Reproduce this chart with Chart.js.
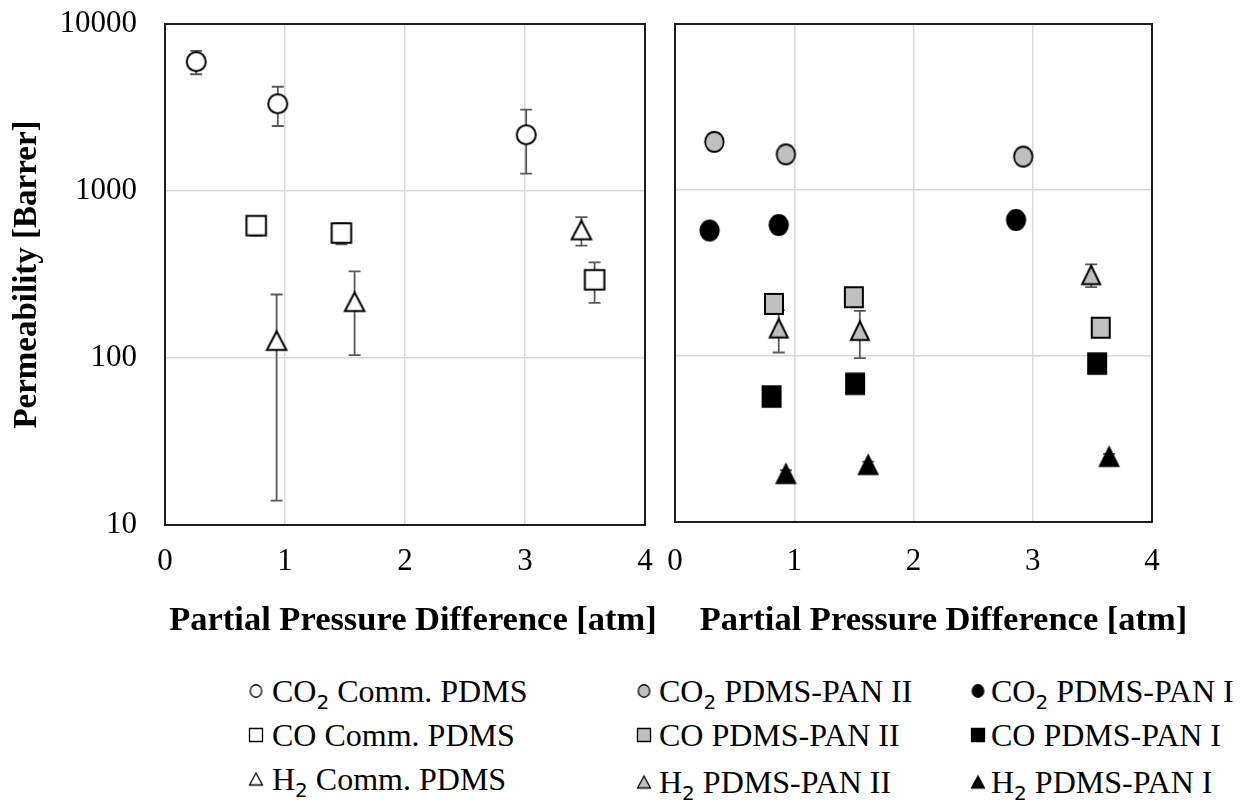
<!DOCTYPE html>
<html>
<head>
<meta charset="utf-8">
<script src="https://cdn.jsdelivr.net/npm/chart.js@4.4.0/dist/chart.umd.min.js"></script>
<style>
  body { margin: 0; background: #fff; width: 1240px; height: 803px; position: relative; overflow: hidden;
         font-family: 'Liberation Serif', 'Times New Roman', serif; }
  .panel { position: absolute; top: 0; height: 650px; }
  #leftPanel { left: 0; width: 660px; }
  #rightPanel { left: 660px; width: 580px; }
  .key { position: absolute; height: 32px; line-height: 32px; font-size: 32px; white-space: nowrap; color: #000; }
  .key canvas { position: absolute; top: 50%; transform: translate(-50%, -50%); }
  .key .sub { font-family: 'DejaVu Sans', sans-serif; font-size: 20px; position: relative; top: 7px; }
</style>
</head>
<body>
<div class="panel" id="leftPanel"><canvas id="commChart"></canvas></div>
<div class="panel" id="rightPanel"><canvas id="panChart"></canvas></div>
<div id="keys"></div>
<script>
const yTicks = [10, 100, 1000, 10000];

// Commercial PDMS
const co2CommX = [0.26, 0.94, 3.01];
const co2CommP = [5950, 3330, 2170];
const co2CommErr = [950, 880, 900];
const coCommX = [0.76, 1.47, 3.58];
const coCommP = [620, 560, 294];
const coCommErr = [80, 80, 80];
const h2CommX = [0.93, 1.58, 3.47];
const h2CommP = [127, 217, 584];
const h2CommErr = [113, 113, 113];

// PDMS-PAN II
const co2Pan2X = [0.33, 0.93, 2.92];
const co2Pan2P = [1950, 1640, 1590];
const coPan2X = [0.83, 1.50, 3.57];
const coPan2P = [206, 226, 148];
const h2Pan2X = [0.87, 1.55, 3.49];
const h2Pan2P = [147, 142, 308];
const h2Pan2Err = [42, 45, 48];

// PDMS-PAN I
const co2Pan1X = [0.29, 0.87, 2.86];
const co2Pan1P = [570, 615, 660];
const coPan1X = [0.81, 1.51, 3.54];
const coPan1P = [57, 68, 90];
const h2Pan1X = [0.93, 1.62, 3.64];
const h2Pan1P = [19.5, 22.1, 24.7];
const h2Pan1Err = [1, 1, 1];

const xTitle = 'Partial Pressure Difference [atm]';
const yTitle = 'Permeability [Barrer]';

const SERIF = "'Liberation Serif', 'Times New Roman', serif";
const GRAY = '#bfbfbf';
const CLEAR = 'rgba(0,0,0,0)';

// marker drawn on a small canvas so the shape is centred on its bounding box
function makeMarker(shape, fill, w, h, lw) {
  const c = document.createElement('canvas');
  c.width = Math.ceil(w + lw * 2 + 2);
  c.height = Math.ceil(h + lw * 2 + 2);
  const g = c.getContext('2d');
  const cx = c.width / 2, cy = c.height / 2;
  g.beginPath();
  if (shape === 'circle') {
    g.ellipse(cx, cy, w / 2, h / 2, 0, 0, Math.PI * 2);
  } else if (shape === 'square') {
    g.rect(cx - w / 2, cy - h / 2, w, h);
  } else {
    g.moveTo(cx, cy - h / 2);
    g.lineTo(cx + w / 2, cy + h / 2);
    g.lineTo(cx - w / 2, cy + h / 2);
    g.closePath();
  }
  g.fillStyle = fill;
  g.fill();
  g.lineWidth = lw;
  g.lineJoin = 'miter';
  g.strokeStyle = '#000';
  g.stroke();
  return c;
}

function points(xs, ys) {
  return xs.map((x, i) => ({ x: x, y: ys[i] }));
}

function series(label, xs, ys, marker, errors) {
  return {
    label: label,
    data: points(xs, ys),
    errors: errors || null,
    pointStyle: marker,
    pointRadius: 10,
    showLine: false
  };
}

// vertical error bars with caps, drawn under the markers
const errorBars = {
  id: 'errorBars',
  beforeDatasetsDraw(chart) {
    const ctx = chart.ctx;
    const ys = chart.scales.y, xs = chart.scales.x;
    ctx.save();
    ctx.strokeStyle = '#595959';
    ctx.lineWidth = 1.8;
    chart.data.datasets.forEach(ds => {
      if (!ds.errors) return;
      ds.data.forEach((p, i) => {
        const e = ds.errors[i];
        if (!e) return;
        const px = xs.getPixelForValue(p.x);
        const top = ys.getPixelForValue(p.y + e);
        const bot = ys.getPixelForValue(Math.max(p.y - e, 1));
        ctx.beginPath();
        ctx.moveTo(px, top); ctx.lineTo(px, bot);
        ctx.moveTo(px - 6, top); ctx.lineTo(px + 6, top);
        ctx.moveTo(px - 6, bot); ctx.lineTo(px + 6, bot);
        ctx.stroke();
      });
    });
    ctx.restore();
  }
};

// box around the plot area
const frame = {
  id: 'frame',
  beforeDatasetsDraw(chart) {
    const a = chart.chartArea, ctx = chart.ctx;
    ctx.save();
    ctx.strokeStyle = '#1e1e1e';
    ctx.lineWidth = 2;
    ctx.strokeRect(a.left, a.top, a.right - a.left, a.bottom - a.top);
    ctx.restore();
  }
};

// x axis caption, placed a little right of the plot centre
const caption = {
  id: 'caption',
  afterDraw(chart, args, opts) {
    const a = chart.chartArea, ctx = chart.ctx;
    ctx.save();
    ctx.font = 'bold 34.5px ' + SERIF;
    ctx.fillStyle = '#000';
    ctx.textAlign = 'center';
    ctx.textBaseline = 'middle';
    ctx.fillText(opts.text, (a.left + a.right) / 2 + opts.dx, opts.y);
    ctx.restore();
  }
};

// label offsets come from invisible tick marks so they don't pad the layout
function panelOptions(cfg) {
  return {
    responsive: true,
    maintainAspectRatio: false,
    animation: false,
    layout: { padding: { top: 24, right: cfg.padRight, left: 0, bottom: 0 } },
    plugins: {
      legend: { display: false },
      tooltip: { enabled: false },
      caption: { text: xTitle, dx: cfg.titleDx, y: 621 }
    },
    scales: {
      x: {
        type: 'linear', min: 0, max: 4,
        afterFit: s => { s.height = cfg.xHeight; },
        grid: { color: '#d9d9d9', lineWidth: 1.5, drawTicks: true, tickLength: cfg.xGap, tickColor: CLEAR },
        border: { display: false },
        ticks: { stepSize: 1, padding: 0, color: '#000', font: { family: SERIF, size: 31 } }
      },
      y: {
        type: 'logarithmic', min: 10, max: 10000,
        afterBuildTicks: s => { s.ticks = yTicks.map(v => ({ value: v })); },
        afterFit: s => { s.width = cfg.yWidth; },
        grid: { color: '#d9d9d9', lineWidth: 1.5, drawTicks: cfg.showY, tickLength: 28, tickColor: CLEAR },
        border: { display: false },
        ticks: {
          display: cfg.showY, padding: 0, color: '#000',
          font: { family: SERIF, size: 31 },
          callback: v => String(v)
        },
        title: {
          display: cfg.showY, text: yTitle, color: '#000',
          font: { family: SERIF, size: 33, weight: 'bold' },
          padding: { top: 8, bottom: 0 }
        }
      }
    }
  };
}

const commDatasets = [
  series('CO₂ Comm. PDMS', co2CommX, co2CommP, makeMarker('circle', '#fff', 19, 19, 2), co2CommErr),
  series('CO Comm. PDMS', coCommX, coCommP, makeMarker('square', '#fff', 19.5, 19.5, 2), coCommErr),
  series('H₂ Comm. PDMS', h2CommX, h2CommP, makeMarker('triangle', '#fff', 19.5, 18.5, 2), h2CommErr)
];

const panDatasets = [
  series('CO₂ PDMS-PAN II', co2Pan2X, co2Pan2P, makeMarker('circle', GRAY, 18.5, 20, 1.8)),
  series('CO₂ PDMS-PAN I', co2Pan1X, co2Pan1P, makeMarker('circle', '#000', 18.5, 20, 1.8)),
  series('CO PDMS-PAN II', coPan2X, coPan2P, makeMarker('square', GRAY, 18, 20, 2)),
  series('CO PDMS-PAN I', coPan1X, coPan1P, makeMarker('square', '#000', 18, 20.5, 2)),
  series('H₂ PDMS-PAN II', h2Pan2X, h2Pan2P, makeMarker('triangle', GRAY, 18, 18.5, 2), h2Pan2Err),
  series('H₂ PDMS-PAN I', h2Pan1X, h2Pan1P, makeMarker('triangle', '#000', 18.5, 18.5, 2), h2Pan1Err)
];

new Chart(document.getElementById('commChart'), {
  type: 'scatter',
  data: { datasets: commDatasets },
  options: panelOptions({ padRight: 15, xHeight: 125, xGap: 18, yWidth: 165, showY: true, titleDx: 8 }),
  plugins: [errorBars, frame, caption]
});

new Chart(document.getElementById('panChart'), {
  type: 'scatter',
  data: { datasets: panDatasets },
  options: panelOptions({ padRight: 88, xHeight: 128, xGap: 21, yWidth: 15, showY: false, titleDx: 30 }),
  plugins: [errorBars, frame, caption]
});

// legend underneath both panels, columns in dataset order
const keyLabels = [
  commDatasets.map(d => d.label),
  panDatasets.filter((d, i) => i % 2 === 0).map(d => d.label),
  panDatasets.filter((d, i) => i % 2 === 1).map(d => d.label)
];
const keyShapes = ['circle', 'square', 'triangle'];
const keyFills = ['#fff', GRAY, '#000'];
const keyCols = [{ mark: 256, text: 272 }, { mark: 644, text: 659 }, { mark: 978, text: 991 }];
const keyRows = [[691, 735, 779], [691, 735, 782], [691, 735, 782]];

const keys = document.getElementById('keys');
keyLabels.forEach((col, c) => {
  col.forEach((label, r) => {
    const div = document.createElement('div');
    div.className = 'key';
    div.style.left = keyCols[c].text + 'px';
    div.style.top = (keyRows[c][r] - 16) + 'px';
    // the subscript 2 is set as a lowered sans digit
    label.split(/(₂)/).forEach(part => {
      if (part === '₂') {
        const s = document.createElement('span');
        s.className = 'sub';
        s.textContent = '2';
        div.appendChild(s);
      } else if (part) {
        div.appendChild(document.createTextNode(part));
      }
    });
    const shape = keyShapes[r];
    const m = shape === 'circle' ? makeMarker(shape, keyFills[c], 11.5, 12.5, 1.3)
            : shape === 'square' ? makeMarker(shape, keyFills[c], 13, 13, 1.3)
            : makeMarker(shape, keyFills[c], 13, 12, 1.3);
    m.style.left = (keyCols[c].mark - keyCols[c].text) + 'px';
    div.appendChild(m);
    keys.appendChild(div);
  });
});
</script>
</body>
</html>
